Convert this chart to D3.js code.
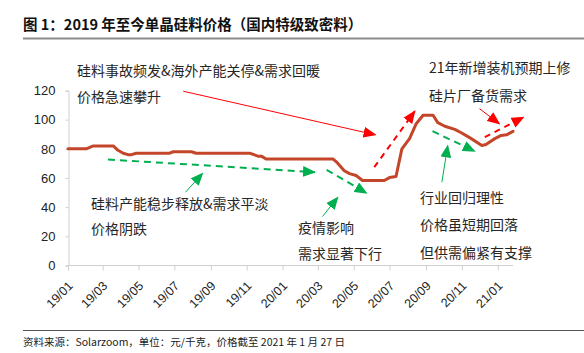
<!DOCTYPE html>
<html>
<head>
<meta charset="utf-8">
<script src="https://cdn.jsdelivr.net/npm/d3@7"></script>
<style>
  html, body { margin: 0; padding: 0; background: #fff; }
  svg { display: block; }
</style>
</head>
<body>
<svg id="chart" width="584" height="353"></svg>
<script>
// ---------- data ----------
const dates = [
  "2019-01-01","2019-02-01","2019-02-13","2019-03-19","2019-03-27","2019-04-05","2019-04-13","2019-04-19","2019-04-27",
  "2019-06-23","2019-06-29","2019-07-30","2019-08-07","2019-11-06","2019-11-20","2019-11-26","2019-12-04",
  "2020-03-27","2020-04-03","2020-04-15","2020-04-24","2020-05-05","2020-05-16","2020-06-22","2020-07-01","2020-07-12",
  "2020-07-22","2020-08-04","2020-08-15","2020-08-27","2020-09-13","2020-09-21","2020-10-03","2020-10-20","2020-10-31",
  "2020-11-17","2020-12-05","2020-12-12","2020-12-27","2021-01-07","2021-01-16","2021-01-27"
];
const prices = [
  80,80,82,82,79,77,76,76,77,
  77,78,78,77,77,75,75,73,
  73,70.5,65,63,61.7,58.3,58.3,60.3,61,
  80,87,97,103,103,98,95.5,93.3,91,
  87,82.3,83,87,89.2,89.6,92
];
const tickLabels = ["19/01","19/03","19/05","19/07","19/09","19/11","20/01","20/03","20/05","20/07","20/09","20/11","21/01"];
const tickDates = ["2019-01-01","2019-03-01","2019-05-01","2019-07-01","2019-09-01","2019-11-01","2020-01-01","2020-03-01","2020-05-01","2020-07-01","2020-09-01","2020-11-01","2021-01-01"];
const yTicks = [0,20,40,60,80,100,120];

const title = "图 1：2019 年至今单晶硅料价格（国内特级致密料）";
const source = "资料来源：Solarzoom，单位：元/千克，价格截至 2021 年 1 月 27 日";

// annotation arrows in data coordinates: [fromDate, fromValue, toDate, toValue]
const redSolidArrows = [
  ["2019-07-16",119.5,"2020-06-07",89.6],
  ["2020-12-01",107.5,"2021-01-04",97.2]
];
const redDashArrows = [
  ["2020-06-05",67.4,"2020-08-13",105.8],
  ["2020-12-10",88,"2021-02-14",101.7]
];
const greenDashArrows = [
  ["2019-03-10",72.7,"2020-02-25",64],
  ["2020-03-16",65.6,"2020-05-23",49.6],
  ["2020-09-12",92.1,"2020-11-23",78.4]
];
const greenSolidArrows = [
  ["2019-07-20",50.3,"2019-08-18",63.3],
  ["2020-03-09",33.6,"2020-04-04",46.8],
  ["2020-09-28",57.1,"2020-10-08",82.3]
];
// text annotations: [text, x, y]
const notes = [
  ["硅料事故频发&海外产能关停&需求回暖", 77, 70],
  ["价格急速攀升", 77, 96],
  ["21年新增装机预期上修", 429, 67],
  ["硅片厂备货需求", 429, 95],
  ["硅料产能稳步释放&需求平淡", 91, 203],
  ["价格阴跌", 91, 228],
  ["疫情影响", 298, 227],
  ["需求显著下行", 298, 253],
  ["行业回归理性", 420, 197],
  ["价格虽短期回落", 420, 224],
  ["但供需偏紧有支撑", 420, 252]
];

// ---------- drawing ----------
const parse = d3.timeParse("%Y-%m-%d");
const svg = d3.select("#chart");
const cjk = "'Noto Sans CJK SC', 'Noto Sans', sans-serif";
const latin = "'Liberation Sans', Arial, sans-serif";

const x = d3.scaleTime().domain([parse("2019-01-01"), parse("2021-01-27")]).range([68, 513]);
const y = d3.scaleLinear().domain([0, 120]).range([265.5, 90.5]);

// title
svg.append("text").attr("x", 23).attr("y", 23).attr("dominant-baseline", "central")
  .attr("font-family", cjk).attr("font-weight", "bold").attr("font-size", 14.5).attr("fill", "#111")
  .text(title);
svg.append("line").attr("x1", 23).attr("x2", 584).attr("y1", 38.5).attr("y2", 38.5)
  .attr("stroke", "#8c8c8c").attr("stroke-width", 2);

// footer
svg.append("line").attr("x1", 23).attr("x2", 584).attr("y1", 330.5).attr("y2", 330.5)
  .attr("stroke", "#555").attr("stroke-width", 1);
svg.append("text").attr("x", 23).attr("y", 341).attr("dominant-baseline", "central")
  .attr("font-family", cjk).attr("font-size", 10.5).attr("fill", "#222")
  .text(source);

// y axis
const yAxis = d3.axisLeft(y).tickValues(yTicks).tickSize(3).tickPadding(10);
const yg = svg.append("g").attr("transform", "translate(68.5,0)").call(yAxis);
yg.select(".domain").attr("stroke", "#d0d0d0");
yg.selectAll(".tick line").attr("stroke", "#d0d0d0");
yg.selectAll(".tick text").attr("font-family", latin).attr("font-size", 13).attr("fill", "#222");

// x axis
const xAxis = d3.axisBottom(x).tickValues(tickDates.map(parse)).tickSize(5)
  .tickFormat((d, i) => tickLabels[i]);
const xg = svg.append("g").attr("transform", "translate(0,265.5)").call(xAxis);
xg.select(".domain").attr("stroke", "#d0d0d0").attr("d", `M${x.range()[0]},0H${x.range()[1]}`);
xg.selectAll(".tick line").attr("stroke", "#d0d0d0");
xg.selectAll(".tick text")
  .attr("font-family", latin).attr("font-size", 12.5).attr("fill", "#222")
  .attr("text-anchor", "end").attr("y", 0).attr("dy", "0.35em")
  .attr("transform", "translate(2,18) rotate(-45)");

// markers
const defs = svg.append("defs");
function marker(id, color) {
  defs.append("marker").attr("id", id).attr("viewBox", "0 0 12 10")
    .attr("refX", 11).attr("refY", 5).attr("markerUnits", "userSpaceOnUse")
    .attr("markerWidth", 13).attr("markerHeight", 11).attr("orient", "auto")
    .append("path").attr("d", "M0,0 L12,5 L0,10 Z").attr("fill", color);
}
marker("redHead", "#ff0000");
marker("greenHead", "#00b050");

// price line
const series = dates.map((d, i) => ({ date: parse(d), value: prices[i] }));
const line = d3.line().x(d => x(d.date)).y(d => y(d.value));
svg.append("path").datum(series).attr("d", line)
  .attr("fill", "none").attr("stroke", "#c4462a").attr("stroke-width", 3)
  .attr("stroke-linejoin", "round").attr("stroke-linecap", "round");

// arrows
function arrows(list, color, width, dash, head) {
  svg.append("g").selectAll("line").data(list).join("line")
    .attr("x1", d => x(parse(d[0]))).attr("y1", d => y(d[1]))
    .attr("x2", d => x(parse(d[2]))).attr("y2", d => y(d[3]))
    .attr("stroke", color).attr("stroke-width", width)
    .attr("stroke-dasharray", dash)
    .attr("marker-end", `url(#${head})`);
}
arrows(redSolidArrows, "#ff0000", 1, null, "redHead");
arrows(redDashArrows, "#ff0000", 2, "6,5", "redHead");
arrows(greenDashArrows, "#00b050", 2, "7,5", "greenHead");
arrows(greenSolidArrows, "#00b050", 1, null, "greenHead");

// notes
svg.append("g").selectAll("text").data(notes).join("text")
  .attr("x", d => d[1]).attr("y", d => d[2]).attr("dominant-baseline", "central")
  .attr("font-family", cjk).attr("font-size", 14).attr("fill", "#262626")
  .text(d => d[0]);
</script>
</body>
</html>
